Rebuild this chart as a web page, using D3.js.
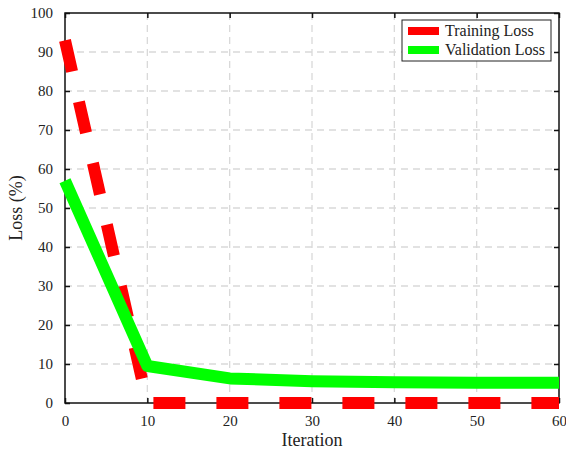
<!DOCTYPE html>
<html lang="en">
<head>
<meta charset="UTF-8">
<title>Loss chart</title>
<script src="https://d3js.org/d3.v7.min.js"></script>
<style>
    body { margin: 0; background: #fff; }
    text { font-family: "Liberation Serif", "DejaVu Serif", serif; fill: #222; }
</style>
</head>
<body>
<svg id="chart" width="566" height="450"></svg>
<script>
    // data
    const iterations = [0, 10, 20, 30, 40, 50, 60];
    const trainingLoss = [93, 0, 0, 0, 0, 0, 0];
    const validationLoss = [57, 9.5, 6.3, 5.6, 5.3, 5.2, 5.2];
    const xTicks = [0, 10, 20, 30, 40, 50, 60];
    const yTicks = [0, 10, 20, 30, 40, 50, 60, 70, 80, 90, 100];
    const seriesNames = ["Training Loss", "Validation Loss"];

    const svg = d3.select("#chart");
    const margin = {top: 13, right: 7, bottom: 47, left: 65};
    const width = 566 - margin.left - margin.right;
    const height = 450 - margin.top - margin.bottom;

    const g = svg.append("g").attr("transform", `translate(${margin.left},${margin.top})`);

    const x = d3.scaleLinear().domain([0, 60]).range([0, width]);
    const y = d3.scaleLinear().domain([0, 100]).range([height, 0]);

    // grid lines
    g.append("g").selectAll("line").data(xTicks.slice(1, -1)).join("line")
        .attr("x1", d => x(d)).attr("x2", d => x(d))
        .attr("y1", 0).attr("y2", height)
        .attr("stroke", "#d9d9d9").attr("stroke-width", 1.3).attr("stroke-dasharray", "7,5");
    g.append("g").selectAll("line").data(yTicks.slice(1, -1)).join("line")
        .attr("y1", d => y(d)).attr("y2", d => y(d))
        .attr("x1", 0).attr("x2", width)
        .attr("stroke", "#d9d9d9").attr("stroke-width", 1.3).attr("stroke-dasharray", "7,5");

    const line = d3.line().x((d, i) => x(iterations[i])).y(d => y(d));

    // axes
    g.append("g").attr("transform", `translate(0,${height})`)
        .call(d3.axisBottom(x).tickValues(xTicks).tickSize(-5).tickPadding(12));
    g.append("g")
        .call(d3.axisLeft(y).tickValues(yTicks).tickSize(-5).tickPadding(12));
    g.append("g").call(d3.axisTop(x).tickValues(xTicks).tickSize(-5).tickFormat(""));
    g.append("g").attr("transform", `translate(${width},0)`)
        .call(d3.axisRight(y).tickValues(yTicks).tickSize(-5).tickFormat(""));
    g.selectAll(".domain").remove();
    g.selectAll(".tick line").attr("stroke", "#111").attr("stroke-width", 1.5);
    g.selectAll(".tick text").style("font-family", "'Liberation Serif', serif")
        .style("font-size", "15px").attr("fill", "#222");

    // frame
    g.append("rect").attr("width", width).attr("height", height)
        .attr("fill", "none").attr("stroke", "#111").attr("stroke-width", 1.5);

    // series: training first, validation on top
    g.append("path").datum(trainingLoss)
        .attr("fill", "none").attr("stroke", "#ff0000").attr("stroke-width", 12)
        .attr("stroke-dasharray", "32,31").attr("d", line);
    g.append("path").datum(validationLoss)
        .attr("fill", "none").attr("stroke", "#00ff00").attr("stroke-width", 12)
        .attr("stroke-linejoin", "round").attr("d", line);

    // axis titles
    svg.append("text").attr("x", margin.left + width / 2).attr("y", 446)
        .attr("text-anchor", "middle").style("font-size", "18px").text("Iteration");
    svg.append("text").attr("transform", `translate(22,${margin.top + height / 2}) rotate(-90)`)
        .attr("text-anchor", "middle").style("font-size", "18px").text("Loss (%)");

    // legend
    const legend = svg.append("g").attr("transform", "translate(402,20)");
    legend.append("rect").attr("width", 149).attr("height", 41)
        .attr("fill", "#fff").attr("stroke", "#222").attr("stroke-width", 1);
    const colors = ["#ff0000", "#00ff00"];
    seriesNames.forEach((name, i) => {
        legend.append("line").attr("x1", 6).attr("x2", 37)
            .attr("y1", 11 + i * 19).attr("y2", 11 + i * 19)
            .attr("stroke", colors[i]).attr("stroke-width", 8);
        legend.append("text").attr("x", 43).attr("y", 16 + i * 19)
            .style("font-size", "16px").text(name);
    });
</script>
</body>
</html>
